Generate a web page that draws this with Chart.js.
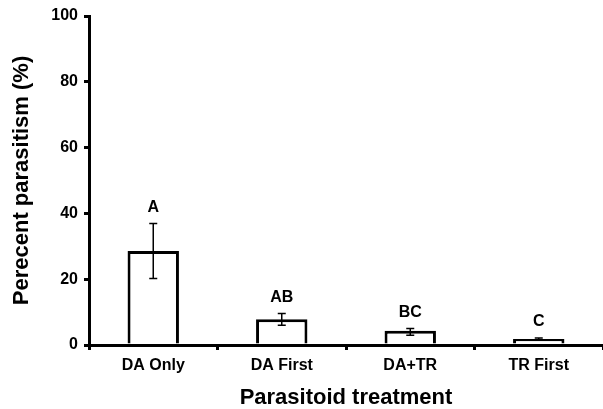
<!DOCTYPE html>
<html>
<head>
<meta charset="utf-8">
<script src="https://cdn.jsdelivr.net/npm/chart.js@4"></script>
<style>
  html, body { margin: 0; padding: 0; background: #fff; }
  #wrap { width: 603px; height: 409px; }
</style>
</head>
<body>
<div id="wrap"><canvas id="chart" width="603" height="409"></canvas></div>
<script>
// ===== data =====
const treatments = ['DA Only', 'DA First', 'DA+TR', 'TR First'];
const parasitism = [28.6, 7.8, 4.3, 1.8];
const errUpper = [36.9, 9.6, 5.0, 2.1];
const errLower = [20.2, 6.0, 3.0, 1.5];
const letters = ['A', 'AB', 'BC', 'C'];

const FONT = '"Liberation Sans", Arial, sans-serif';

// error bars + significance letters
const errorBarPlugin = {
    id: 'errorBars',
    afterDatasetsDraw(chart) {
        const ctx = chart.ctx;
        const meta = chart.getDatasetMeta(0);
        const y = chart.scales.y;
        ctx.save();
        ctx.strokeStyle = '#000';
        ctx.lineWidth = 1.5;
        meta.data.forEach((bar, i) => {
            const x = bar.x;
            const top = y.getPixelForValue(errUpper[i]);
            const bot = y.getPixelForValue(errLower[i]);
            ctx.beginPath();
            ctx.moveTo(x, top); ctx.lineTo(x, bot);
            ctx.moveTo(x - 4, top); ctx.lineTo(x + 4, top);
            ctx.moveTo(x - 4, bot); ctx.lineTo(x + 4, bot);
            ctx.stroke();
            ctx.fillStyle = '#000';
            ctx.font = 'bold 16px ' + FONT;
            ctx.textAlign = 'center';
            ctx.textBaseline = 'middle';
            ctx.fillText(letters[i], x, top - 16);
        });
        ctx.restore();
    }
};

new Chart(document.getElementById('chart'), {
    type: 'bar',
    data: {
        labels: treatments,
        datasets: [{
            data: parasitism,
            backgroundColor: '#fff',
            borderColor: '#000',
            borderWidth: 3,
            borderSkipped: 'bottom',
            categoryPercentage: 1,
            barPercentage: 0.4
        }]
    },
    options: {
        responsive: false,
        animation: false,
        layout: { padding: { top: 16, right: 0, left: 0, bottom: 0 } },
        plugins: { legend: { display: false }, tooltip: { enabled: false } },
        scales: {
            x: {
                grid: { display: true, drawOnChartArea: false, offset: true, tickLength: 5, lineWidth: 3, color: '#000' },
                border: { display: true, width: 3, color: '#000' },
                ticks: { color: '#000', font: { family: FONT, size: 16, weight: 'bold' }, padding: 6 },
                title: { display: true, text: 'Parasitoid treatment', color: '#000', font: { family: FONT, size: 22, weight: 'bold', lineHeight: 1 }, padding: { top: 1, bottom: 0 } },
                afterFit(s) { s.height = 64; }
            },
            y: {
                min: 0, max: 100,
                grid: { display: true, drawOnChartArea: false, tickLength: 5, lineWidth: 3, color: '#000' },
                border: { display: true, width: 3, color: '#000' },
                ticks: { stepSize: 20, color: '#000', font: { family: FONT, size: 16, weight: 'bold' }, padding: 6 },
                title: { display: true, text: 'Perecent parasitism (%)', color: '#000', font: { family: FONT, size: 22, weight: 'bold', lineHeight: 1 }, padding: { top: 11, bottom: 0 } },
                afterFit(s) { s.width = 89; }
            }
        }
    },
    plugins: [errorBarPlugin]
});
</script>
</body>
</html>
